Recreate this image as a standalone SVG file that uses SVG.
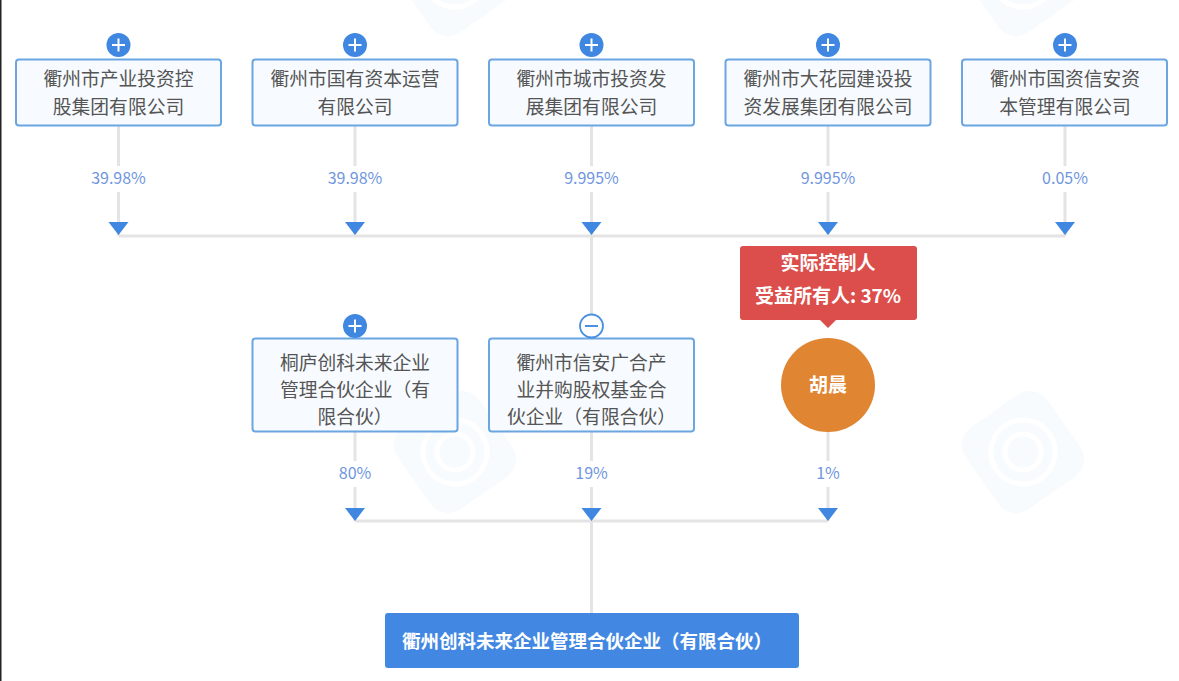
<svg xmlns="http://www.w3.org/2000/svg" width="1179" height="681" viewBox="0 0 1179 681">
<style>
text{font-family:"Noto Sans CJK SC","Noto Sans",sans-serif;text-anchor:middle}
.box{fill:#f7fbff;stroke:#6ba6e2;stroke-width:2}
.lbl{font-size:18.8px;fill:#555}
.pct{font-size:16px;fill:#6f96de}
.ln{stroke:#e4e4e4;stroke-width:3;fill:none}
.wm{fill:#f7fbfd}
.ring{fill:none;stroke:#fff;stroke-width:5}
.plus{fill:#3f87e0}
.gl{stroke:#fff;stroke-width:2;fill:none}
.wt{font-weight:700;fill:#fff;font-size:19px}
</style>
<defs>
<path id="arr" d="M-10 0H10L0 13Z" fill="#3f87e0"/>
<g id="btn"><circle r="12" class="plus"/><path d="M-6.500 0H6.500M0-6.500V6.500" class="gl"/></g>
<g id="logo" transform="rotate(-35)"><rect class="wm" x="-50" y="-50" width="100" height="100" rx="22"/><circle class="ring" r="32"/><circle class="ring" r="18"/></g>
</defs>
<rect width="1179" height="681" fill="#fff"/>
<rect width="1.500" height="681" fill="#222"/>
<g id="watermark">
<use href="#logo" x="455" y="452"/><use href="#logo" x="1023" y="452"/><use href="#logo" x="455" y="-25"/><use href="#logo" x="1023" y="-25"/>
</g>
<g id="connectors">
<path class="ln" d="M118.500 126V166M118.500 192V236M355 126V166M355 192V236M591.500 126V166M591.500 192V236M828 126V166M828 192V236M1065 126V166M1065 192V236M118.500 236H1065M591.500 236V316"/>
<path class="ln" d="M355 432V461M355 487V521M591.500 432V461M591.500 487V521M828 432V461M828 487V521M355 521H828M591.500 521V613"/>
<use href="#arr" x="118.500" y="222"/><use href="#arr" x="355" y="222"/><use href="#arr" x="591.500" y="222"/><use href="#arr" x="828" y="222"/><use href="#arr" x="1065" y="222"/>
<use href="#arr" x="355" y="508"/><use href="#arr" x="591.500" y="508"/><use href="#arr" x="828" y="508"/>
<text class="pct" x="118.500" y="184">39.98%</text><text class="pct" x="355" y="184">39.98%</text><text class="pct" x="591.500" y="184">9.995%</text><text class="pct" x="828" y="184">9.995%</text><text class="pct" x="1065" y="184">0.05%</text>
<text class="pct" x="355" y="479">80%</text><text class="pct" x="591.500" y="479">19%</text><text class="pct" x="828" y="479">1%</text>
</g>
<g id="n1"><rect class="box" x="16" y="59.500" width="205" height="66" rx="3"/><use href="#btn" x="118.500" y="45"/><text class="lbl" x="118.500" y="86">衢州市产业投资控</text><text class="lbl" x="118.500" y="114">股集团有限公司</text></g>
<g id="n2"><rect class="box" x="252.500" y="59.500" width="205" height="66" rx="3"/><use href="#btn" x="355" y="45"/><text class="lbl" x="355" y="86">衢州市国有资本运营</text><text class="lbl" x="355" y="114">有限公司</text></g>
<g id="n3"><rect class="box" x="489" y="59.500" width="205" height="66" rx="3"/><use href="#btn" x="591.500" y="45"/><text class="lbl" x="591.500" y="86">衢州市城市投资发</text><text class="lbl" x="591.500" y="114">展集团有限公司</text></g>
<g id="n4"><rect class="box" x="725.500" y="59.500" width="205" height="66" rx="3"/><use href="#btn" x="828" y="45"/><text class="lbl" x="828" y="86">衢州市大花园建设投</text><text class="lbl" x="828" y="114">资发展集团有限公司</text></g>
<g id="n5"><rect class="box" x="962" y="59.500" width="205" height="66" rx="3"/><use href="#btn" x="1065" y="45"/><text class="lbl" x="1065" y="86">衢州市国资信安资</text><text class="lbl" x="1065" y="114">本管理有限公司</text></g>
<g id="n6"><rect class="box" x="252.500" y="338.500" width="205" height="93" rx="3"/><use href="#btn" x="355" y="326"/><text class="lbl" x="355" y="370">桐庐创科未来企业</text><text class="lbl" x="355" y="397">管理合伙企业（有</text><text class="lbl" x="355" y="424">限合伙）</text></g>
<g id="n7"><rect class="box" x="489" y="338.500" width="205" height="93" rx="3"/><circle cx="591.500" cy="326" r="11.500" fill="#fff" stroke="#4a8fe0" stroke-width="1.800"/><path d="M585 326H598" stroke="#4a8fe0" stroke-width="2"/><text class="lbl" x="591.500" y="370">衢州市信安广合产</text><text class="lbl" x="591.500" y="397">业并购股权基金合</text><text class="lbl" x="591.500" y="424">伙企业（有限合伙）</text></g>
<g id="n8">
<path d="M743 246H914a3 3 0 0 1 3 3V317a3 3 0 0 1-3 3H836L828 328L820 320H743a3 3 0 0 1-3-3V249a3 3 0 0 1 3-3Z" fill="#dc4e4b"/>
<text class="wt" x="828" y="270">实际控制人</text>
<text class="wt" x="828" y="303">受益所有人: 37%</text>
<circle cx="828" cy="385" r="47" fill="#e08632"/>
<text class="wt" x="828" y="392">胡晨</text>
</g>
<g id="n9"><rect x="385" y="613" width="414" height="55" rx="3" fill="#4288e3"/><text class="wt" x="587" y="648" style="font-size:18.500px">衢州创科未来企业管理合伙企业（有限合伙）</text></g>
</svg>
